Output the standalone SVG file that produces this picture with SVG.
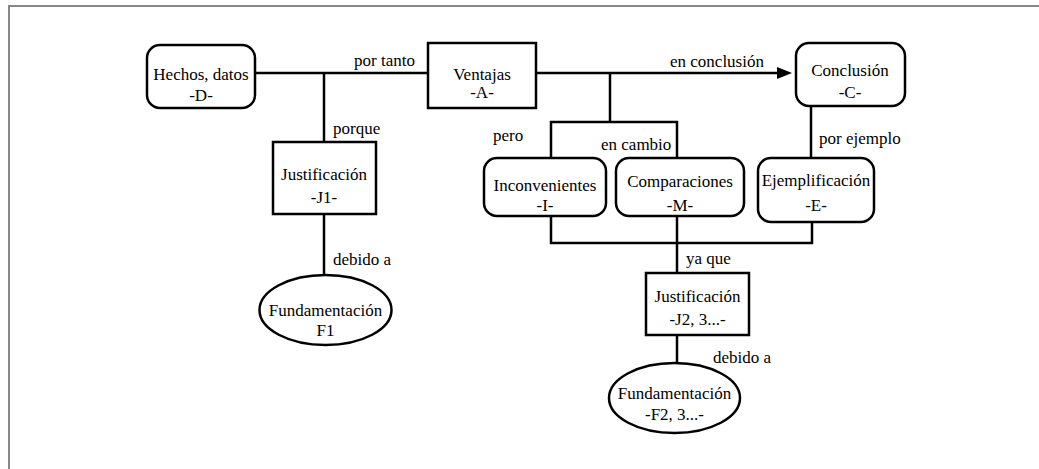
<svg xmlns="http://www.w3.org/2000/svg" width="1039" height="469" viewBox="0 0 1039 469">
<style>
.box{fill:#fff;stroke:#000;stroke-width:2.5}
.ln{fill:none;stroke:#000;stroke-width:2.5}
.c{text-anchor:middle}
</style>
<rect width="1039" height="469" fill="#fff"/>
<path d="M9,469 V6 H1039" fill="none" stroke="#888" stroke-width="2"/>
<g font-family="Liberation Serif, DejaVu Serif, serif" font-size="17" fill="#000">
<g id="connectors">
<path class="ln" d="M255,73 H428"/>
<path class="ln" d="M324,73 V142"/>
<path class="ln" d="M324,214 V275"/>
<path class="ln" d="M536,73 H780"/>
<polygon points="792,73 777,67 777,79" fill="#000"/>
<path class="ln" d="M610,73 V122 M551,158 V122 H677 V158"/>
<path class="ln" d="M811,106 V158"/>
<path class="ln" d="M551,216 V243 H812 V222 M677,216 V273"/>
<path class="ln" d="M677,335 V363"/>
<text x="354" y="66">por tanto</text>
<text x="333" y="134">porque</text>
<text x="333" y="265">debido a</text>
<text x="670" y="67">en conclusión</text>
<text x="493" y="141">pero</text>
<text x="601" y="150">en cambio</text>
<text x="819" y="144">por ejemplo</text>
<text x="686" y="264">ya que</text>
<text x="713" y="363">debido a</text>
</g>
<g id="D"><rect class="box" x="147" y="45" width="108" height="63" rx="13"/><text class="c" x="201" y="80">Hechos, datos</text><text class="c" x="201" y="101">-D-</text></g>
<g id="A"><rect class="box" x="428" y="43" width="108" height="65"/><text class="c" x="482" y="80">Ventajas</text><text class="c" x="482" y="98">-A-</text></g>
<g id="C"><rect class="box" x="796" y="43" width="109" height="63" rx="13"/><text class="c" x="850" y="76">Conclusión</text><text class="c" x="850" y="98">-C-</text></g>
<g id="J1"><rect class="box" x="273" y="142" width="103" height="72"/><text class="c" x="324" y="180">Justificación</text><text class="c" x="324" y="203">-J1-</text></g>
<g id="F1"><ellipse class="box" cx="325.5" cy="310" rx="66" ry="35"/><text class="c" x="325.5" y="316">Fundamentación</text><text class="c" x="325.5" y="336">F1</text></g>
<g id="I"><rect class="box" x="484" y="158" width="122" height="58" rx="13"/><text class="c" x="545" y="191">Inconvenientes</text><text class="c" x="545" y="211">-I-</text></g>
<g id="M"><rect class="box" x="616" y="158" width="128" height="58" rx="13"/><text class="c" x="680" y="187">Comparaciones</text><text class="c" x="680" y="211">-M-</text></g>
<g id="E"><rect class="box" x="758" y="158" width="116" height="64" rx="13"/><text class="c" x="816" y="186">Ejemplificación</text><text class="c" x="816" y="211">-E-</text></g>
<g id="J2"><rect class="box" x="646" y="273" width="103" height="62"/><text class="c" x="697.5" y="302">Justificación</text><text class="c" x="697.5" y="325">-J2, 3...-</text></g>
<g id="F2"><ellipse class="box" cx="674.5" cy="398" rx="65.5" ry="35"/><text class="c" x="674.5" y="399">Fundamentación</text><text class="c" x="674.5" y="420">-F2, 3...-</text></g>
</g>
</svg>
